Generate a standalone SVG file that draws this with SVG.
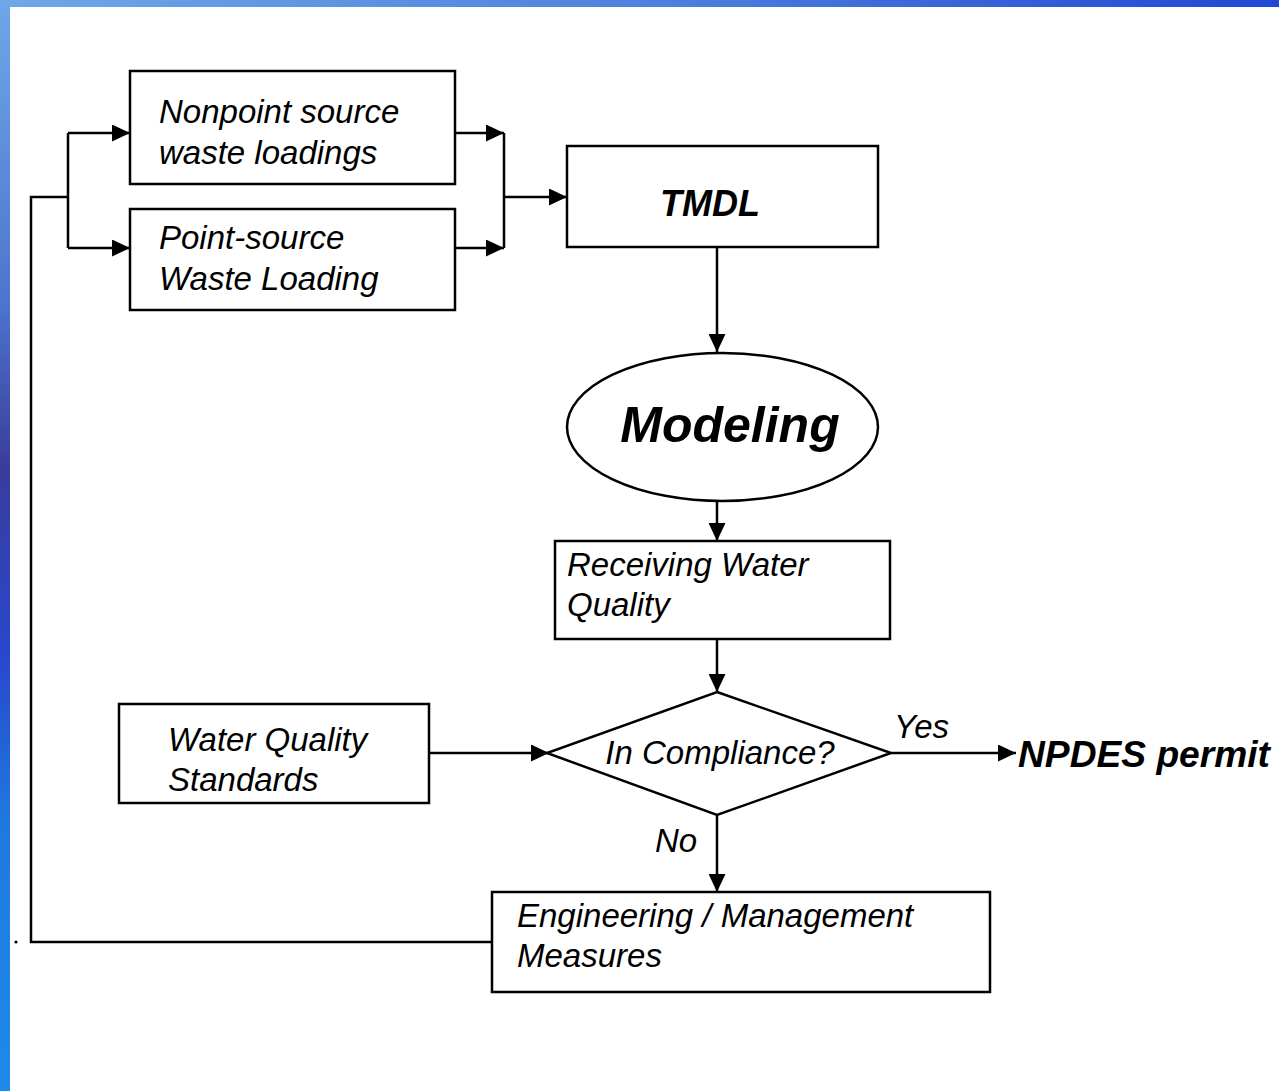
<svg xmlns="http://www.w3.org/2000/svg" width="1279" height="1091" viewBox="0 0 1279 1091">
  <defs>
    <linearGradient id="topBar" x1="0" y1="0" x2="1" y2="0">
      <stop offset="0" stop-color="#6ea8e8"/>
      <stop offset="0.5" stop-color="#4f82dc"/>
      <stop offset="1" stop-color="#2048d4"/>
    </linearGradient>
    <linearGradient id="sideBar" x1="0" y1="0" x2="0" y2="1">
      <stop offset="0" stop-color="#6ea8e8"/>
      <stop offset="0.28" stop-color="#4c74cc"/>
      <stop offset="0.43" stop-color="#3a3c9c"/>
      <stop offset="0.6" stop-color="#2848cc"/>
      <stop offset="0.75" stop-color="#1f78e0"/>
      <stop offset="1" stop-color="#1e8aea"/>
    </linearGradient>
    <marker id="arrow" markerUnits="userSpaceOnUse" markerWidth="18" markerHeight="17" viewBox="0 0 18 17" refX="18" refY="8.5" orient="auto">
      <path d="M0,0 L18,8.5 L0,17 Z" fill="#000"/>
    </marker>
    <style>
      .box { fill: #fff; stroke: #000; stroke-width: 2.5; }
      .wire { fill: none; stroke: #000; stroke-width: 2.5; }
      .arr { fill: none; stroke: #000; stroke-width: 2.5; marker-end: url(#arrow); }
      .lbl { font-family: "Liberation Sans", Arial, sans-serif; font-style: italic; font-size: 33px; fill: #000; }
      .bold { font-family: "Liberation Sans", Arial, sans-serif; font-style: italic; font-weight: bold; fill: #000; }
    </style>
  </defs>

  <!-- page frame -->
  <rect x="0" y="0" width="1279" height="1091" fill="#fff"/>
  <rect x="0" y="0" width="1279" height="7" fill="url(#topBar)"/>
  <rect x="0" y="0" width="10" height="1091" fill="url(#sideBar)"/>
  <circle cx="16" cy="942" r="1.6" fill="#000"/>

  <!-- connectors -->
  <g id="connectors">
    <path class="wire" d="M492,942 H31 V197 H68"/>
    <path class="wire" d="M68,133 V248"/>
    <path class="arr" d="M68,133 H130"/>
    <path class="arr" d="M68,248 H130"/>
    <path class="arr" d="M455,133 H504"/>
    <path class="arr" d="M455,248 H504"/>
    <path class="wire" d="M504,133 V248"/>
    <path class="arr" d="M504,197 H567"/>
    <path class="arr" d="M717,247 V352"/>
    <path class="arr" d="M717,501 V541"/>
    <path class="arr" d="M717,639 V692"/>
    <path class="arr" d="M429,753 H549"/>
    <path class="arr" d="M891,753 H1016"/>
    <path class="arr" d="M717,815 V892"/>
    <text class="lbl" x="894" y="738" font-size="31">Yes</text>
    <text class="lbl" x="655" y="852">No</text>
  </g>

  <g id="nonpoint">
    <rect class="box" x="130" y="71" width="325" height="113"/>
    <text class="lbl" x="159" y="123">Nonpoint source</text>
    <text class="lbl" x="159" y="164">waste loadings</text>
  </g>

  <g id="pointsource">
    <rect class="box" x="130" y="209" width="325" height="101"/>
    <text class="lbl" x="159" y="249">Point-source</text>
    <text class="lbl" x="159" y="290">Waste Loading</text>
  </g>

  <g id="tmdl">
    <rect class="box" x="567" y="146" width="311" height="101"/>
    <text class="bold" x="710" y="216" font-size="36" text-anchor="middle">TMDL</text>
  </g>

  <g id="modeling">
    <ellipse class="box" cx="722.5" cy="427" rx="155.5" ry="74"/>
    <text class="bold" x="730" y="442" font-size="50" text-anchor="middle">Modeling</text>
  </g>

  <g id="receiving">
    <rect class="box" x="555" y="541" width="335" height="98"/>
    <text class="lbl" x="567" y="576">Receiving Water</text>
    <text class="lbl" x="567" y="616">Quality</text>
  </g>

  <g id="compliance">
    <path class="box" d="M717,692 L891,753 L717,815 L547,753 Z"/>
    <text class="lbl" x="720" y="764" text-anchor="middle">In Compliance?</text>
  </g>

  <g id="standards">
    <rect class="box" x="119" y="704" width="310" height="99"/>
    <text class="lbl" x="168" y="751">Water Quality</text>
    <text class="lbl" x="168" y="791">Standards</text>
  </g>

  <g id="npdes">
    <text class="bold" x="1018" y="767" font-size="36" textLength="252" lengthAdjust="spacingAndGlyphs">NPDES permit</text>
  </g>

  <g id="measures">
    <rect class="box" x="492" y="892" width="498" height="100"/>
    <text class="lbl" x="517" y="927">Engineering / Management</text>
    <text class="lbl" x="517" y="967">Measures</text>
  </g>
</svg>
